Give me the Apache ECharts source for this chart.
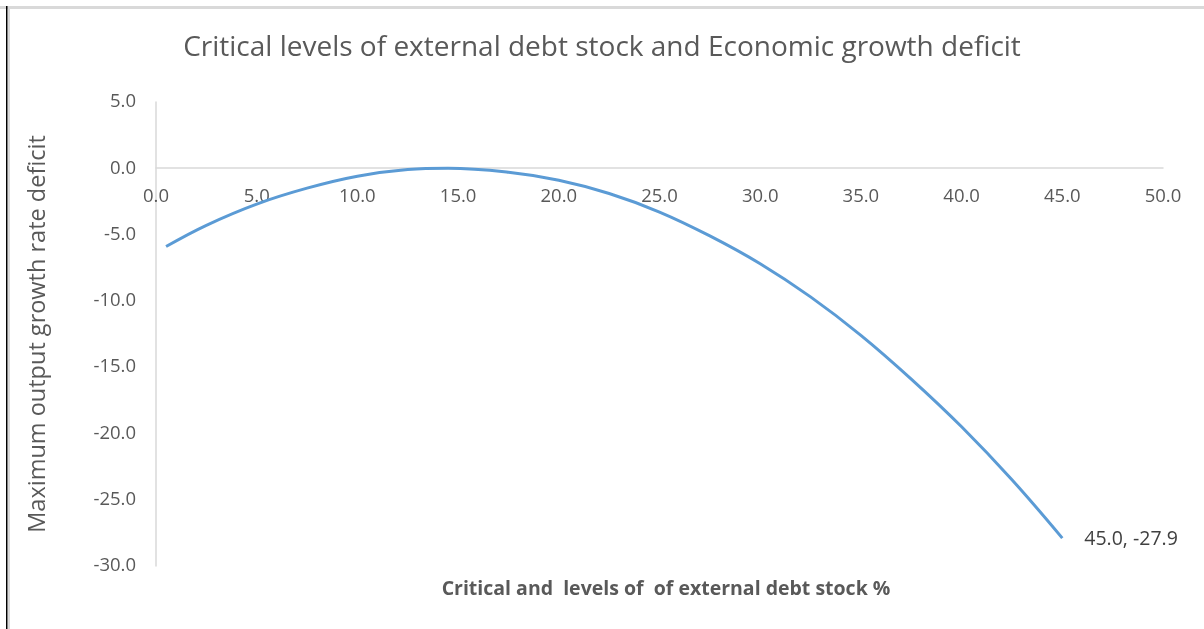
<!DOCTYPE html>
<html>
<head>
<meta charset="utf-8">
<script src="https://cdn.jsdelivr.net/npm/echarts@6/dist/echarts.min.js"></script>
<style>html,body{margin:0;padding:0;background:#fff}#c{width:1204px;height:629px}</style>
</head>
<body>
<div id="c"></div>
<script>
// Critical external debt stock (%)
var debtLevels = [0.5, 2.5, 5.0, 7.5, 10.0, 12.5, 14.5, 17.5, 20.0, 22.5, 25.0, 27.5, 30.0, 32.5, 35.0, 37.5, 40.0, 42.5, 45.0];
// Maximum output growth rate deficit
var growthDeficit = [-5.9, -4.3, -2.7, -1.5, -0.6, -0.1, 0.0, -0.3, -0.9, -1.9, -3.3, -5.1, -7.2, -9.7, -12.6, -15.9, -19.5, -23.5, -27.9];
var titleText = 'Critical levels of external debt stock and Economic growth deficit';
var xName = 'Critical and  levels of  of external debt stock %';
var yName = 'Maximum output growth rate deficit';

var font = '"Open Sans","Noto Sans",sans-serif';
var pts = debtLevels.map(function (x, i) { return [x, growthDeficit[i]]; });

var chart = echarts.init(document.getElementById('c'));
chart.setOption({
  backgroundColor: '#fff',
  animation: false,
  title: [
    { text: titleText, left: 'center', top: 29,
      textStyle: { fontSize: 28, fontWeight: 'normal', color: '#595959', fontFamily: font } },
    { text: xName, left: 661, textAlign: 'center', top: 574,
      textStyle: { fontSize: 19.5, fontWeight: 'bold', color: '#595959', fontFamily: font } }
  ],
  graphic: [
    { type: 'rect', shape: { x: 0, y: 6, width: 1204, height: 3 }, style: { fill: '#d9d9d9' }, silent: true },
    { type: 'rect', shape: { x: 6, y: 6, width: 1.5, height: 623 }, style: { fill: '#000' }, silent: true },
    { type: 'rect', shape: { x: 8, y: 6, width: 2, height: 623 }, style: { fill: '#d9d9d9' }, silent: true }
  ],
  grid: { left: 156, right: 41, top: 102, bottom: 63 },
  xAxis: {
    type: 'value', min: 0, max: 50, interval: 5,
    position: 'bottom', offset: -398,
    axisLine: { onZero: false, lineStyle: { color: '#d9d9d9', width: 1.5 } },
    axisTick: { show: false },
    splitLine: { show: false },
    axisLabel: { margin: 19, color: '#595959', fontSize: 18.5, fontFamily: font,
      formatter: function (v) { return v.toFixed(1); } }
  },
  yAxis: {
    type: 'value', min: -30, max: 5, interval: 5,
    name: yName, nameLocation: 'middle', nameGap: 106,
    nameTextStyle: { fontSize: 23.5, color: '#595959', fontFamily: font },
    axisLine: { show: true, lineStyle: { color: '#d9d9d9', width: 1.5 } },
    axisTick: { show: false },
    splitLine: { show: false },
    axisLabel: { margin: 20, color: '#595959', fontSize: 18.5, fontFamily: font,
      formatter: function (v) { return v.toFixed(1); } }
  },
  series: [{
    type: 'line', data: pts, smooth: 0.4, showSymbol: false, clip: false,
    lineStyle: { color: '#5b9bd5', width: 3 },
    itemStyle: { color: '#5b9bd5' },
    endLabel: {
      show: true, distance: 22, offset: [0, 1],
      formatter: function (d) { return d.value[0].toFixed(1) + ', ' + d.value[1].toFixed(1); },
      color: '#404040', fontSize: 19.5, fontFamily: font
    }
  }]
});
</script>
</body>
</html>
